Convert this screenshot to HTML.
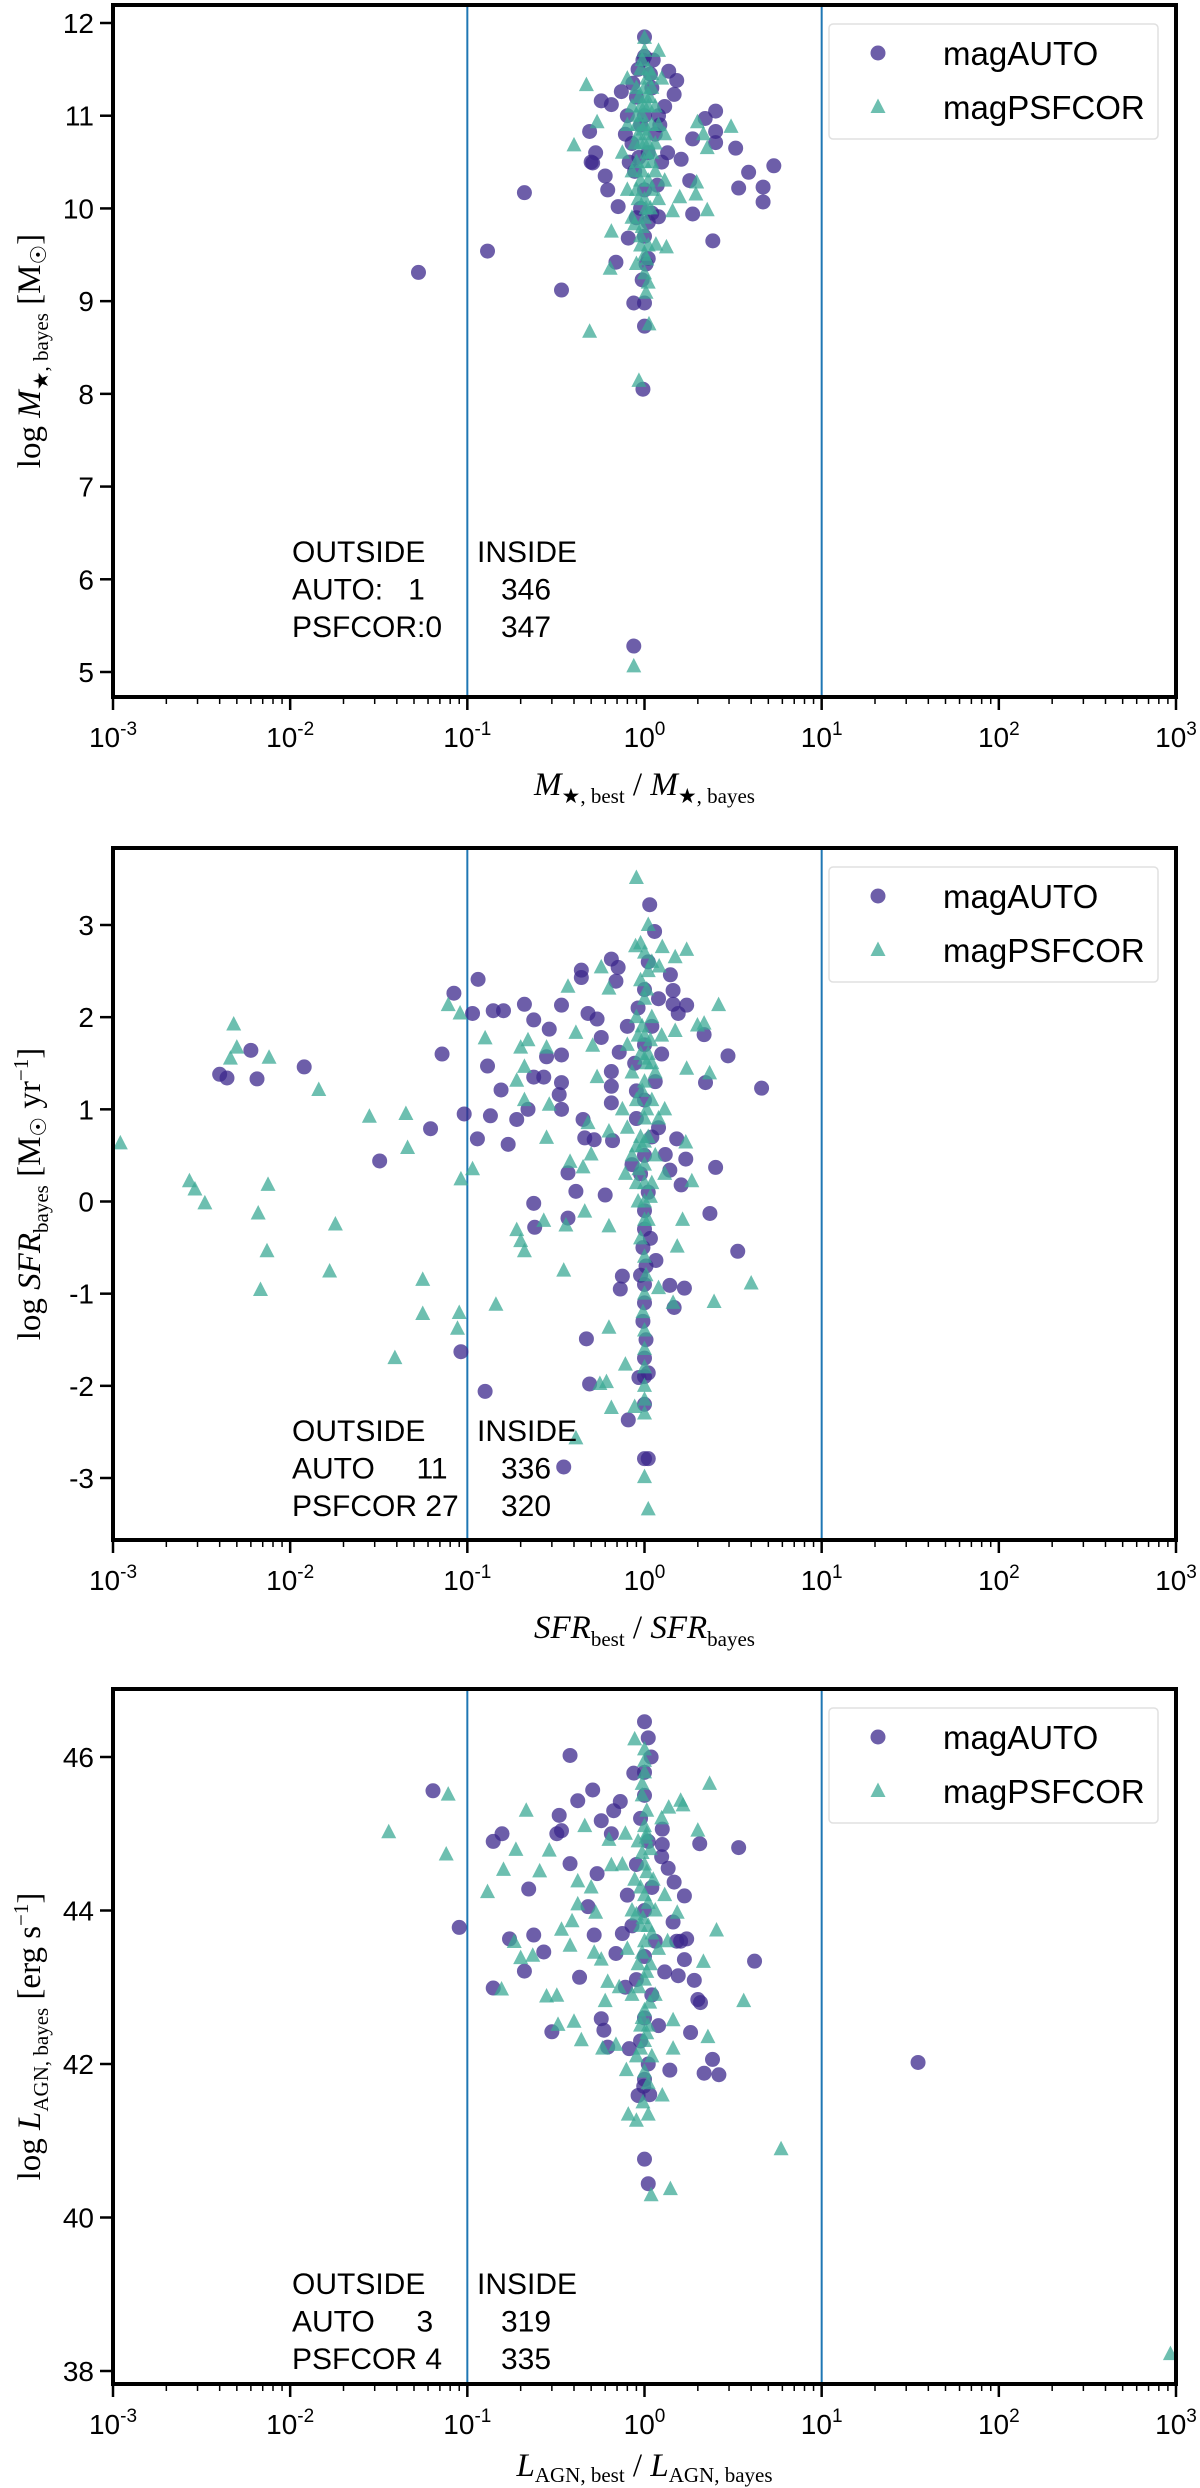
<!DOCTYPE html>
<html><head><meta charset="utf-8"><style>
html,body{margin:0;padding:0;background:#fff}
svg{display:block}
text{font-family:"Liberation Sans",sans-serif;fill:#000;white-space:pre}
.serif{font-family:"Liberation Serif",serif}
</style></head><body>
<svg id="chart" width="1200" height="2488" viewBox="0 0 1200 2488" xmlns="http://www.w3.org/2000/svg"></svg>
<script>
// ---------- data ----------
const xTickExps = [-3,-2,-1,0,1,2,3];
const p1YTicks = [5,6,7,8,9,10,11,12];
const p2YTicks = [-3,-2,-1,0,1,2,3];
const p3YTicks = [38,40,42,44,46];
const p1Counts = [["OUTSIDE","INSIDE"],["AUTO:   1","346"],["PSFCOR:0","347"]];
const p2Counts = [["OUTSIDE","INSIDE"],["AUTO     11","336"],["PSFCOR 27","320"]];
const p3Counts = [["OUTSIDE","INSIDE"],["AUTO     3","319"],["PSFCOR 4","335"]];

const p1Auto = [[0.053,9.31],[0.13,9.54],[0.21,10.17],[0.34,9.12],[0.87,5.28],[0.98,8.05],[1.0,8.73],[0.87,8.98],[1.0,8.98],[0.97,9.23],[1.05,9.46],[0.69,9.42],[0.81,9.68],[2.43,9.65],[1.87,9.94],[1.2,9.91],[3.4,10.22],[3.87,10.39],[4.67,10.23],[4.67,10.07],[5.37,10.46],[3.27,10.65],[2.52,10.83],[2.52,10.71],[2.52,11.05],[2.2,10.97],[1.87,10.75],[1.61,10.53],[1.8,10.3],[1.47,11.23],[1.52,11.38],[1.37,11.48],[0.51,10.49],[0.5,10.5],[0.49,10.83],[0.57,11.16],[0.65,11.12],[0.74,11.26],[0.62,10.2],[0.6,10.35],[0.53,10.6],[0.71,10.02],[1.0,11.85],[1.0,11.64],
[0.9,11.2],[1.1,11.3],[0.95,10.9],[1.05,10.6],[0.88,10.4],[1.15,10.8],[1.2,11.0],[0.92,11.5],[1.08,11.45],[1.0,10.2],[0.95,10.0],[1.1,9.95],[1.0,9.7],[1.02,9.4],[0.85,10.7],[1.25,10.5],[1.3,11.1],[0.8,11.0],[0.82,10.5],[1.18,10.25],[0.98,11.6],[1.05,9.85],[0.9,9.9],[1.12,11.6],[1.22,10.9],[0.78,10.8],[1.35,10.6],[0.86,11.35],[1.0,11.0],[0.93,10.55]];
const p1Psf = [[0.47,11.33],[0.4,10.68],[0.54,10.93],[0.49,8.67],[0.93,8.14],[0.87,5.06],[0.65,9.75],[0.64,9.35],[1.0,11.84],[1.2,11.7],[1.99,10.93],[2.26,10.65],[3.08,10.88],[2.15,10.8],[1.95,10.15],[1.97,10.28],[2.26,9.98],[1.33,9.58],[1.16,9.61],[1.44,9.97],[1.58,10.12],[1.06,8.75],[1.02,9.09],[0.88,9.83],
[1.0,11.7],[0.95,11.5],[1.05,11.5],[0.9,11.3],[1.1,11.3],[1.0,11.3],[0.85,11.1],[0.95,11.1],[1.05,11.1],[1.15,11.1],[0.9,10.9],[1.0,10.9],[1.1,10.9],[1.2,10.9],[0.8,10.9],[0.95,10.7],[1.05,10.7],[0.88,10.7],[1.15,10.7],[1.0,10.5],[0.9,10.5],[1.1,10.5],[0.95,10.3],[1.05,10.3],[1.0,10.1],[0.92,10.1],[1.08,10.0],[1.0,9.9],[0.95,9.7],[1.05,9.6],[1.0,9.5],[0.9,9.4],[1.0,9.3],[1.05,9.2],[1.25,11.4],[0.8,11.4],[1.3,10.8],[0.75,10.6],[1.3,10.3],[0.8,10.2],[0.85,9.9],[1.2,10.1],[1.0,11.1],[1.0,10.7],
[0.97,11.6],[1.03,11.4],[0.93,11.2],[1.07,11.2],[0.97,11.0],[1.03,10.8],[0.92,10.8],[1.1,10.6],[0.97,10.4],[1.03,10.6],[0.9,10.2],[1.1,10.2],[1.02,10.0],[0.97,9.8],[1.03,9.45],[0.95,9.6],[1.1,11.45],[0.9,11.0],[1.15,10.4],[0.85,10.4],[0.98,10.85],[1.02,11.2]];

const p2Auto = [[0.004,1.38],[0.0044,1.34],[0.006,1.64],[0.0065,1.33],[0.012,1.46],[0.032,0.44],[0.062,0.79],[0.072,1.6],[0.084,2.26],[0.096,0.95],[0.092,-1.63],[0.115,2.41],[0.114,0.68],[0.107,2.04],[0.13,1.47],[0.135,0.93],[0.14,2.07],[0.16,2.07],[0.155,1.21],[0.126,-2.06],[0.17,0.62],[0.21,2.14],[0.19,0.89],[0.22,1.0],[0.237,1.97],[0.237,1.35],[0.27,1.35],[0.237,-0.02],[0.24,-0.28],[0.29,1.87],[0.28,1.57],[0.34,2.13],[0.34,1.59],[0.34,1.29],[0.33,1.16],[0.34,1.0],[0.37,0.31],[0.35,-2.88],[0.37,-0.18],[0.41,0.11],[0.44,2.51],[0.44,2.43],[0.48,2.04],[0.45,0.89],[0.46,0.69],[0.47,-1.49],[0.49,-1.98],[0.52,0.67],[0.54,1.98],[0.57,1.78],[0.6,0.07],[0.65,2.63],[0.69,2.39],[0.65,1.41],[0.65,1.25],[0.65,1.07],[0.66,0.66],[0.71,2.54],[0.72,1.62],[0.75,-0.81],[0.73,-0.95],[0.81,-2.37],[0.93,-1.91],[1.0,-2.79],[1.05,-2.79],[1.05,-1.86],[1.14,2.93],[1.07,3.22],[1.4,2.46],[1.45,2.29],[1.45,2.14],[1.55,2.04],[1.73,2.13],[1.31,0.51],[1.39,0.34],[1.52,0.68],[1.71,0.46],[1.61,0.18],[1.39,-0.91],[1.68,-0.94],[1.47,-1.15],[1.16,-0.64],[2.17,1.81],[2.21,1.29],[2.34,-0.13],[2.52,0.37],[2.96,1.58],[3.36,-0.54],[4.58,1.23],
[1.0,-2.2],[1.0,-1.9],[1.0,-1.7],[1.02,-1.5],[0.98,-1.3],[1.0,-1.1],[1.0,-0.9],[1.02,-0.7],[0.98,-0.5],[1.0,-0.3],[1.0,-0.1],[1.05,0.1],[0.95,0.3],[1.0,0.5],[1.1,0.7],[0.9,0.9],[1.0,1.1],[1.15,1.3],[0.88,1.5],[1.0,1.7],[1.1,1.9],[0.92,2.1],[1.0,2.3],[1.05,2.6],[0.9,1.2],[1.2,0.8],[0.85,0.4],[1.25,1.6],[0.8,1.9],[1.2,2.2],[0.95,-0.8],[1.08,-0.4]];
const p2Psf = [[0.0011,0.63],[0.0027,0.22],[0.0029,0.13],[0.0033,-0.02],[0.0048,1.92],[0.0046,1.55],[0.005,1.67],[0.0066,-0.13],[0.0068,-0.96],[0.0074,-0.54],[0.0075,0.18],[0.0076,1.56],[0.0145,1.21],[0.0167,-0.76],[0.018,-0.25],[0.028,0.92],[0.039,-1.7],[0.045,0.95],[0.046,0.58],[0.056,-0.85],[0.056,-1.22],[0.078,2.13],[0.09,-1.21],[0.088,-1.38],[0.091,2.04],[0.092,0.24],[0.107,0.35],[0.126,1.77],[0.145,-1.12],[0.19,1.31],[0.19,-0.31],[0.2,-0.43],[0.21,-0.54],[0.2,1.67],[0.22,1.75],[0.21,1.1],[0.21,1.46],[0.27,-0.21],[0.28,1.67],[0.28,0.69],[0.29,1.05],[0.35,-0.75],[0.36,-0.26],[0.37,2.33],[0.38,0.43],[0.41,1.83],[0.41,-2.57],[0.45,0.37],[0.46,-0.11],[0.48,0.85],[0.5,0.51],[0.51,1.69],[0.54,1.35],[0.57,2.54],[0.56,-1.98],[0.61,-1.96],[0.63,-1.37],[0.63,2.31],[0.63,0.76],[0.63,-0.27],[0.65,-2.24],[0.78,-1.77],[0.88,-2.23],[0.9,3.51],[0.89,2.77],[0.93,0.35],[1.0,-2.99],[1.05,-3.34],[1.21,2.55],[1.26,2.76],[1.49,2.65],[1.49,1.85],[1.45,-1.1],[1.53,-0.49],[1.64,-0.2],[1.73,2.73],[1.73,1.44],[1.71,0.64],[1.85,0.22],[1.99,1.91],[2.17,1.93],[2.33,1.39],[2.47,-1.09],[2.62,2.13],[4.0,-0.89],[1.2,-0.94],
[1.0,-2.3],[1.0,-2.0],[1.0,-1.6],[0.98,-1.2],[1.02,-0.8],[1.0,-0.6],[0.95,-0.4],[1.05,-0.2],[1.0,0.0],[0.9,0.2],[1.1,0.2],[1.0,0.4],[0.85,0.5],[1.15,0.5],[0.95,0.7],[1.05,0.7],[0.8,0.8],[1.2,0.9],[1.0,0.9],[0.9,1.1],[1.1,1.1],[1.0,1.3],[0.85,1.4],[1.15,1.4],[0.95,1.6],[1.05,1.6],[1.0,1.8],[0.9,2.0],[1.1,2.0],[1.0,2.2],[0.95,2.4],[1.05,2.5],[1.0,2.7],[1.05,3.0],[0.75,1.0],[1.3,1.0],[0.78,0.3],[1.3,0.3],[0.8,1.7],[1.25,1.8],[1.0,-1.4],[1.0,-1.0],
[1.0,-2.15],[1.0,-1.8],[1.0,-0.2],[1.0,0.2],[0.97,0.6],[1.03,1.0],[0.97,1.2],[1.03,1.5],[0.97,1.9],[1.03,2.3],[1.1,2.6],[0.92,0.0],[1.08,0.05],[0.92,1.8],[1.08,1.75],[0.9,0.6],[1.1,1.5],[0.95,2.8],[1.0,0.65],[1.0,1.55]];

const p3Auto = [[0.064,45.56],[0.09,43.78],[0.14,42.99],[0.14,44.9],[0.157,45.0],[0.173,43.63],[0.21,43.21],[0.222,44.28],[0.237,43.68],[0.27,43.46],[0.3,42.42],[0.33,45.24],[0.34,45.04],[0.32,45.0],[0.38,46.02],[0.38,44.61],[0.42,45.43],[0.43,43.13],[0.48,44.05],[0.51,45.57],[0.52,43.68],[0.54,44.48],[0.57,45.17],[0.57,42.59],[0.59,42.44],[0.62,42.22],[0.65,45.0],[0.67,45.3],[0.69,43.44],[0.73,45.42],[0.87,45.79],[0.92,41.59],[0.99,41.71],[1.0,40.76],[1.05,40.44],[1.07,41.6],[1.0,46.46],[1.05,46.25],[1.09,46.0],[1.26,45.06],[1.26,44.86],[1.36,44.55],[1.47,44.37],[1.39,41.92],[1.45,43.85],[1.52,43.6],[1.68,44.19],[1.55,43.15],[1.68,43.36],[1.6,43.6],[1.73,43.63],[1.82,42.41],[1.91,43.09],[2.0,42.84],[2.07,42.8],[2.05,44.87],[2.17,41.88],[2.42,42.06],[2.63,41.86],[3.4,44.82],[4.18,43.34],[35,42.02],
[1.0,45.8],[1.0,45.5],[0.95,45.2],[1.05,44.9],[0.9,44.6],[1.1,44.3],[1.0,44.0],[0.85,43.8],[1.15,43.6],[1.0,43.4],[0.9,43.1],[1.1,42.9],[1.0,42.6],[0.95,42.3],[1.05,42.0],[0.8,44.2],[1.25,44.7],[0.78,43.0],[1.3,43.2],[0.75,43.7],[1.2,42.5],[0.82,42.2],[1.0,41.8]];
const p3Psf = [[0.036,45.02],[0.076,44.73],[0.078,45.51],[0.13,44.24],[0.156,42.97],[0.16,44.53],[0.184,43.59],[0.188,44.79],[0.2,43.38],[0.215,45.3],[0.234,43.41],[0.256,44.51],[0.28,42.88],[0.29,44.78],[0.32,42.89],[0.325,42.51],[0.34,43.75],[0.38,43.54],[0.39,43.86],[0.4,42.55],[0.42,44.38],[0.42,44.08],[0.44,42.31],[0.46,45.1],[0.5,44.3],[0.52,43.45],[0.53,43.97],[0.57,43.36],[0.58,42.2],[0.6,42.82],[0.62,43.07],[0.63,44.92],[0.65,44.59],[0.69,42.25],[0.79,41.92],[0.81,41.34],[0.9,41.26],[0.88,46.23],[1.05,41.34],[1.09,40.29],[1.26,41.59],[1.4,40.37],[1.37,45.34],[1.45,42.2],[1.45,42.57],[1.53,43.97],[1.6,45.43],[1.65,45.37],[2.0,45.04],[2.15,43.33],[2.28,42.35],[2.33,45.65],[2.55,43.74],[3.63,42.82],[5.9,40.89],[930,38.22],
[1.0,46.1],[1.0,45.8],[0.97,45.5],[1.03,45.3],[1.0,45.1],[0.92,44.9],[1.08,44.8],[1.0,44.6],[0.88,44.4],[1.12,44.4],[1.0,44.2],[0.85,44.0],[1.15,44.0],[0.95,43.8],[1.05,43.8],[1.0,43.6],[0.8,43.5],[1.2,43.5],[0.92,43.3],[1.08,43.3],[1.0,43.1],[0.85,42.9],[1.15,42.9],[1.0,42.7],[0.95,42.5],[1.05,42.5],[1.0,42.3],[0.9,42.1],[1.1,42.1],[1.0,41.9],[0.75,44.6],[1.3,44.2],[0.72,43.0],[1.35,43.6],[0.78,45.0],[1.25,45.2],
[1.0,45.95],[0.97,45.65],[1.03,45.0],[0.97,44.75],[1.03,44.5],[0.95,44.3],[1.05,44.1],[0.9,43.95],[1.1,43.7],[0.97,43.45],[1.03,43.2],[0.93,43.0],[1.07,42.8],[0.97,42.6],[1.03,42.4],[0.95,42.2],[1.05,41.75],[0.98,41.5],[1.02,44.95],[0.98,43.9]];

// ---------- drawing ----------
const NS = "http://www.w3.org/2000/svg";
const svg = document.getElementById("chart");
const X0 = 113, X1 = 1176;
function xs(v){ return X0 + (Math.log10(v) + 3) / 6 * (X1 - X0); }
function mk(tag, attrs, parent){ const e = document.createElementNS(NS, tag); for (const k in attrs) e.setAttribute(k, attrs[k]); (parent||svg).appendChild(e); return e; }

function panel(cfg){
  const g = mk("g", {});
  
  
  const ys = v => cfg.yPx0 + (v - cfg.yV0) * (cfg.yPx1 - cfg.yPx0) / (cfg.yV1 - cfg.yV0);
  [0.1, 10].forEach((v, i) => {
    const l = mk("line", {x1: xs(v), x2: xs(v), y1: cfg.top, y2: cfg.bot, stroke: "#1f77b4", "stroke-width": 2}, g);
    
    
  });
  const clip = mk("clipPath", {id: "clip-" + cfg.name}, g);
  mk("rect", {x: X0, y: cfg.top, width: X1 - X0, height: cfg.bot - cfg.top}, clip);
  const pg = mk("g", {"clip-path": "url(#clip-" + cfg.name + ")"}, g);
  cfg.auto.forEach(p => {
    const c = mk("circle", {cx: xs(p[0]), cy: ys(p[1]), r: 7.5, fill: "rgb(60,40,140)", "fill-opacity": 0.75}, pg);
    
    
  });
  cfg.psf.forEach(p => {
    const x = xs(p[0]), y = ys(p[1]);
    const t = mk("polygon", {points: `${x},${y-8.5} ${x-7.5},${y+6} ${x+7.5},${y+6}`, fill: "rgb(60,170,150)", "fill-opacity": 0.75}, pg);
    
    
  });
  const f = mk("rect", {x: X0, y: cfg.top, width: X1 - X0, height: cfg.bot - cfg.top, fill: "none", stroke: "#000", "stroke-width": 4}, g);
  
  
  xTickExps.forEach(e => {
    const x = xs(Math.pow(10, e));
    mk("line", {x1: x, x2: x, y1: cfg.bot, y2: cfg.bot + 13, stroke: "#000", "stroke-width": 2.5}, g);
    const t = mk("text", {x: x, y: cfg.bot + 50, "font-size": 28, "text-anchor": "middle"}, g);
    
    
    t.appendChild(document.createTextNode("10"));
    const s = mk("tspan", {dy: -12, "font-size": 19}, t);
    s.textContent = String(e);
    if (e < 3) for (let m = 2; m <= 9; m++) {
      const xm = xs(m * Math.pow(10, e));
      mk("line", {x1: xm, x2: xm, y1: cfg.bot, y2: cfg.bot + 7, stroke: "#000", "stroke-width": 1.5}, g);
    }
  });
  cfg.yTicks.forEach(v => {
    const y = ys(v);
    mk("line", {x1: X0 - 13, x2: X0, y1: y, y2: y, stroke: "#000", "stroke-width": 2.5}, g);
    const t = mk("text", {x: X0 - 19, y: y + 10, "font-size": 28, "text-anchor": "end"}, g);
    
    
    t.textContent = v < 0 ? "-" + Math.abs(v) : String(v);
  });
  const xt = mk("text", {x: (X0 + X1) / 2, y: cfg.bot + cfg.xtOff, "font-size": 33, "text-anchor": "middle", class: "serif"}, g);
  
  
  xt.innerHTML = cfg.xTitle;
  const yc = (cfg.top + cfg.bot) / 2;
  const yt = mk("text", {x: 0, y: 0, "font-size": 33, "text-anchor": "middle", class: "serif", transform: `translate(40,${yc}) rotate(-90)`}, g);
  
  
  yt.innerHTML = cfg.yTitle;
  const lg = mk("g", {}, g);
  
  
  const lt = cfg.top + 19;
  mk("rect", {x: 829, y: lt, width: 329, height: 115, rx: 4, fill: "#fff", stroke: "#e0e0e0", "stroke-width": 1.5}, lg);
  mk("circle", {cx: 878, cy: lt + 29, r: 7.5, fill: "rgb(60,40,140)", "fill-opacity": 0.75}, lg);
  mk("polygon", {points: `878,${lt+74.5} 870.5,${lt+89} 885.5,${lt+89}`, fill: "rgb(60,170,150)", "fill-opacity": 0.75}, lg);
  const l1 = mk("text", {x: 943, y: lt + 41, "font-size": 33}, lg);
  
  
  l1.textContent = "magAUTO";
  const l2 = mk("text", {x: 943, y: lt + 95, "font-size": 33}, lg);
  
  
  l2.textContent = "magPSFCOR";
  cfg.counts.forEach((row, i) => {
    const y = cfg.statY + i * 37.5;
    const a = mk("text", {x: 292, y: y, "font-size": 30}, g);
    
    
    a.textContent = row[0];
    const b = mk("text", {x: i ? 501 : 477, y: y, "font-size": 30}, g);
    
    
    b.textContent = row[1];
  });
}

panel({name: "mass-panel", top: 5, bot: 697, yV0: 12, yPx0: 23, yV1: 5, yPx1: 672, yTicks: p1YTicks,
  auto: p1Auto, psf: p1Psf, counts: p1Counts, statY: 562, xtOff: 98,
  xTitle: '<tspan font-style="italic">M</tspan><tspan font-size="21" dy="8">★, best</tspan><tspan dy="-8"> / </tspan><tspan font-style="italic">M</tspan><tspan font-size="21" dy="8">★, bayes</tspan>',
  yTitle: 'log <tspan font-style="italic">M</tspan><tspan font-size="21" dy="8">★, bayes</tspan><tspan dy="-8"> [M</tspan><tspan font-size="22" dy="6">☉</tspan><tspan dy="-6">]</tspan>'});
panel({name: "sfr-panel", top: 848, bot: 1540, yV0: 3, yPx0: 925, yV1: -3, yPx1: 1478, yTicks: p2YTicks,
  auto: p2Auto, psf: p2Psf, counts: p2Counts, statY: 1441, xtOff: 98,
  xTitle: '<tspan font-style="italic">SFR</tspan><tspan font-size="21" dy="8">best</tspan><tspan dy="-8"> / </tspan><tspan font-style="italic">SFR</tspan><tspan font-size="21" dy="8">bayes</tspan>',
  yTitle: 'log <tspan font-style="italic">SFR</tspan><tspan font-size="21" dy="8">bayes</tspan><tspan dy="-8"> [M</tspan><tspan font-size="22" dy="6">☉</tspan><tspan dy="-6"> yr</tspan><tspan font-size="21" dy="-12">−1</tspan><tspan dy="12">]</tspan>'});
panel({name: "agn-panel", top: 1689, bot: 2384, yV0: 46, yPx0: 1757, yV1: 38, yPx1: 2371, yTicks: p3YTicks,
  auto: p3Auto, psf: p3Psf, counts: p3Counts, statY: 2294, xtOff: 92,
  xTitle: '<tspan font-style="italic">L</tspan><tspan font-size="21" dy="6">AGN, best</tspan><tspan dy="-6"> / </tspan><tspan font-style="italic">L</tspan><tspan font-size="21" dy="6">AGN, bayes</tspan>',
  yTitle: 'log <tspan font-style="italic">L</tspan><tspan font-size="21" dy="8">AGN, bayes</tspan><tspan dy="-8"> [erg s</tspan><tspan font-size="21" dy="-12">−1</tspan><tspan dy="12">]</tspan>'});
</script>
</body></html>
